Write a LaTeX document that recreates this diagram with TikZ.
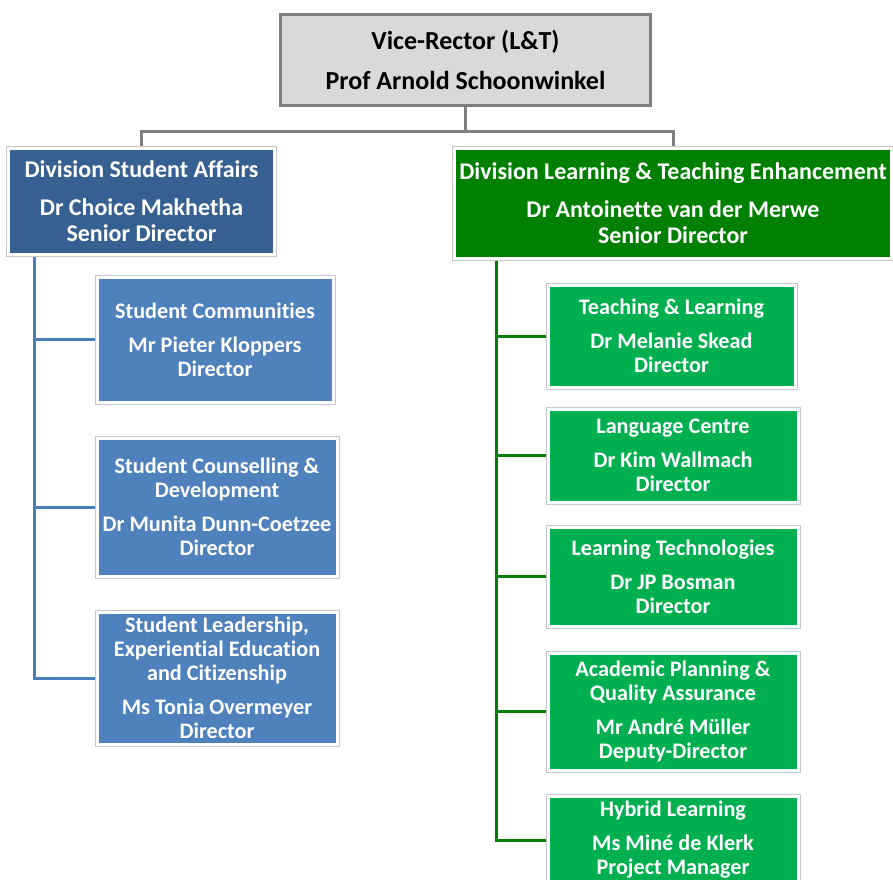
\documentclass[tikz,border=0pt]{standalone}
\usepackage{fontspec}
\setmainfont[Ligatures=NoCommon]{Carlito}
\usetikzlibrary{calc,backgrounds}
\definecolor{vrfill}{HTML}{D9D9D9}
\definecolor{vrline}{HTML}{7F7F7F}
\definecolor{safill}{HTML}{366092}
\definecolor{subblue}{HTML}{4F81BD}
\definecolor{spineblue}{HTML}{4A7EBB}
\definecolor{ltefill}{HTML}{008000}
\definecolor{subgreen}{HTML}{00B050}

\begin{document}
\begin{tikzpicture}[x=1pt,y=-1pt]
            \tikzstyle{every node}=[inner sep=0pt, align=center]
            \tikzstyle{unit}=[draw=white, line width=3pt, preaction={draw=black!22, line width=5pt}, text=white]
            \tikzstyle{divtext}=[font=\bfseries\fontsize{24}{26}\selectfont]
            \tikzstyle{subtext}=[font=\bfseries\fontsize{22.2}{24}\selectfont]
            \tikzstyle{grayline}=[draw=vrline, line width=3pt]
            \tikzstyle{blueline}=[draw=spineblue, line width=3pt]
            \tikzstyle{greenline}=[draw=ltefill, line width=3pt]
            \useasboundingbox (0,0) rectangle (893,879);
            \node[draw=vrline, fill=vrfill, line width=3pt, minimum width=370pt, minimum height=91pt, font=\bfseries\fontsize{26}{27}\selectfont] (vr) at (465.5,60) {Vice-Rector (L\&T)\\[13pt]Prof Arnold Schoonwinkel};
            \node[unit, divtext, fill=safill, minimum width=266pt, minimum height=106pt] (sa) at (141.5,201.5) {Division Student Affairs\\[12pt]Dr Choice Makhetha\\Senior Director};
            \node[unit, divtext, fill=ltefill, minimum width=437pt, minimum height=110pt] (lte) at (673,203.5) {Division Learning \& Teaching Enhancement\\[12pt]Dr Antoinette van der Merwe\\Senior Director};
            \node[unit, subtext, fill=subblue, minimum width=236pt, minimum height=125pt] (sa1) at (215,339.5) {Student Communities\\[10pt]Mr Pieter Kloppers\\Director};
            \node[unit, subtext, fill=subblue, minimum width=240pt, minimum height=138pt] (sa2) at (217,507) {Student Counselling \&\\Development\\[10pt]Dr Munita Dunn-Coetzee\\Director};
            \node[unit, subtext, fill=subblue, minimum width=240pt, minimum height=132pt] (sa3) at (217,678) {Student Leadership,\\Experiential Education\\and Citizenship\\[10pt]Ms Tonia Overmeyer\\Director};
            \node[unit, subtext, fill=subgreen, minimum width=247pt, minimum height=102pt] (lte1) at (671.5,336) {Teaching \& Learning\\[10pt]Dr Melanie Skead\\Director};
            \node[unit, subtext, fill=subgreen, minimum width=250pt, minimum height=93pt] (lte2) at (673,455.5) {Language Centre\\[10pt]Dr Kim Wallmach\\Director};
            \node[unit, subtext, fill=subgreen, minimum width=250pt, minimum height=99pt] (lte3) at (673,576.5) {Learning Technologies\\[10pt]Dr JP Bosman\\Director};
            \node[unit, subtext, fill=subgreen, minimum width=250pt, minimum height=117pt] (lte4) at (673,711.5) {Academic Planning \&\\Quality Assurance\\[10pt]Mr Andr\'e M\"uller\\Deputy-Director};
            \node[unit, subtext, fill=subgreen, minimum width=250pt, minimum height=88pt] (lte5) at (673,840) {Hybrid Learning\\[10pt]Ms Min\'e de Klerk\\Project Manager};
            \begin{scope}[on background layer]
            \coordinate (bar) at ($(vr.south) + (0,24)$);
            \draw[grayline] (vr.south)--(bar);
            \draw[grayline] (sa.north) |- (bar) -| (lte.north);
            \foreach \n in {sa1,sa2,sa3}
                \draw[blueline] ($(sa.south west) + (27.5,0)$) |- (\n.west);
            \foreach \n in {lte1,lte2,lte3,lte4,lte5}
                \draw[greenline] ($(lte.south west) + (43.5,0)$) |- (\n.west);
            \end{scope}
        \end{tikzpicture}
\end{document}
